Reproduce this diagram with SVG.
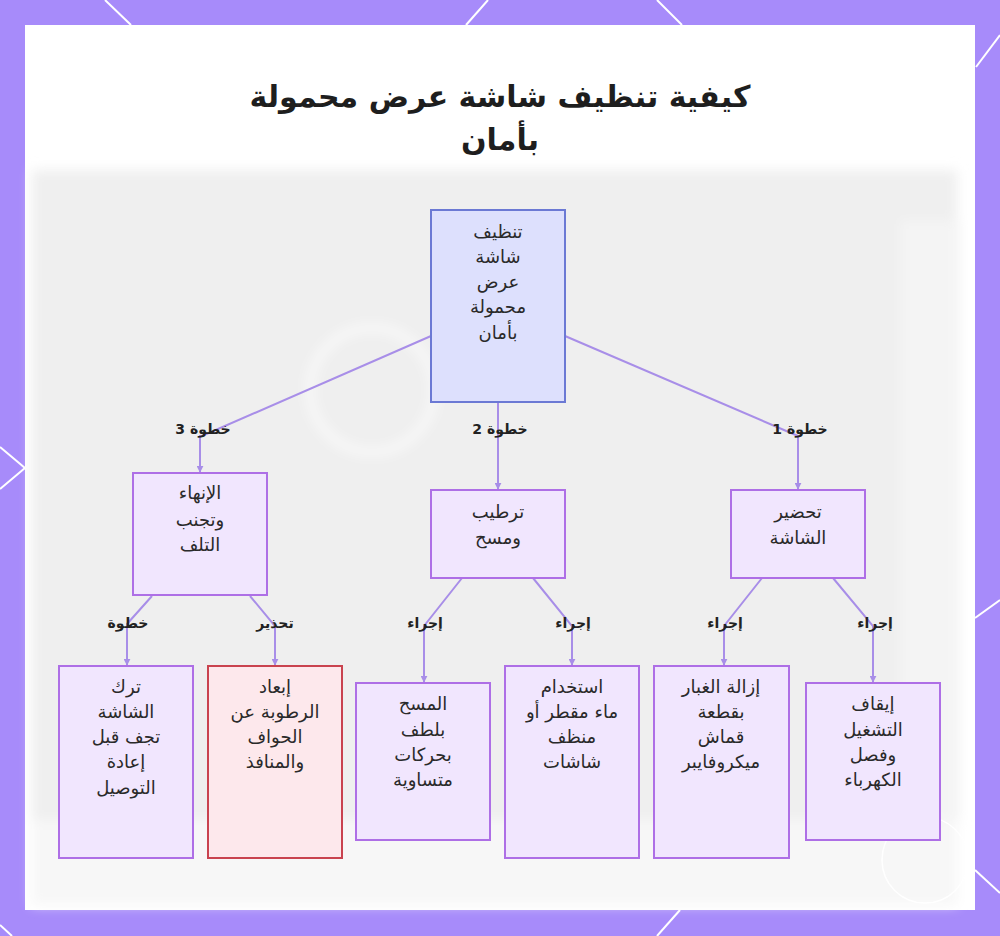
<svg xmlns="http://www.w3.org/2000/svg" width="1000" height="936" viewBox="0 0 1000 936">
<style>
text{font-family:"DejaVu Sans","Noto Sans",sans-serif;direction:rtl;text-anchor:middle;fill:#2a2a2a}
.t{font-size:30px;font-weight:bold;fill:#1e1e1e}
.n{font-size:18px}
.lb{font-size:14px;font-weight:bold;fill:#222}
.root{fill:#dde0fd;stroke:#6b79d4;stroke-width:2}
.p{fill:#f1e6fe;stroke:#ae6fe6;stroke-width:2}
.r{fill:#fde8ec;stroke:#c9434f;stroke-width:2}
.e{fill:none;stroke:#a88ee8;stroke-width:2}
.deco{stroke:#ffffff;stroke-width:2;fill:none}
</style>
<defs>
<marker id="ah" viewBox="0 0 10 10" refX="9" refY="5" markerWidth="3.5" markerHeight="3.5" orient="auto"><path d="M0,0L10,5L0,10z" fill="#a88ee8"/></marker>
<filter id="bl" x="-10%" y="-10%" width="120%" height="120%"><feGaussianBlur stdDeviation="6"/></filter>
</defs>
<rect x="0" y="0" width="1000" height="936" fill="#a78bfa"/>
<g class="deco">
<line x1="105" y1="0" x2="131" y2="25"/>
<line x1="488" y1="0" x2="466" y2="25"/>
<line x1="657" y1="0" x2="682" y2="25"/>
<line x1="1000" y1="35" x2="976" y2="67"/>
<line x1="0" y1="447" x2="25" y2="468"/>
<line x1="0" y1="489" x2="25" y2="468"/>
<line x1="1000" y1="600" x2="975" y2="618"/>
<line x1="975" y1="870" x2="1000" y2="893"/>
<line x1="680" y1="910" x2="657" y2="936"/>
<line x1="0" y1="925" x2="12" y2="936"/>
</g>
<rect x="25" y="25" width="950" height="885" fill="#ffffff"/>
<g filter="url(#bl)">
<rect x="32" y="170" width="925" height="650" fill="#efefef"/>
<rect x="32" y="820" width="925" height="85" fill="#f7f7f7"/>
<circle cx="372" cy="390" r="62" fill="none" stroke="#f7f7f7" stroke-width="10"/>
<rect x="900" y="220" width="60" height="600" fill="#f4f4f4"/>
</g>
<circle cx="925" cy="860" r="43" fill="none" stroke="#ffffff" stroke-width="1.5"/>
<text class="t" x="500" y="107">كيفية تنظيف شاشة عرض محمولة</text>
<text class="t" x="500" y="150">بأمان</text>
<g id="connectors">
<polyline class="e" points="431,336 202,436 200,436 200,472" marker-end="url(#ah)"/>
<polyline class="e" points="498,402 498,489" marker-end="url(#ah)"/>
<polyline class="e" points="565,336 798,436 798,489" marker-end="url(#ah)"/>
<polyline class="e" points="152,596 127,624 127,665" marker-end="url(#ah)"/>
<polyline class="e" points="250,596 275,626 275,665" marker-end="url(#ah)"/>
<polyline class="e" points="462,578 424,626 424,682" marker-end="url(#ah)"/>
<polyline class="e" points="533,578 572,626 572,665" marker-end="url(#ah)"/>
<polyline class="e" points="762,578 724,626 724,665" marker-end="url(#ah)"/>
<polyline class="e" points="833,578 873,626 873,682" marker-end="url(#ah)"/>
<text class="lb" x="203" y="434">خطوة 3</text>
<text class="lb" x="500" y="434">خطوة 2</text>
<text class="lb" x="800" y="434">خطوة 1</text>
<text class="lb" x="128" y="628">خطوة</text>
<text class="lb" x="275" y="628">تحذير</text>
<text class="lb" x="425" y="628">إجراء</text>
<text class="lb" x="573" y="628">إجراء</text>
<text class="lb" x="725" y="628">إجراء</text>
<text class="lb" x="875" y="628">إجراء</text>
</g>
<g id="root">
<rect class="root" x="431" y="210" width="134" height="192"/>
<text class="n" x="498" y="238">تنظيف</text>
<text class="n" x="498" y="263">شاشة</text>
<text class="n" x="498" y="288">عرض</text>
<text class="n" x="498" y="313">محمولة</text>
<text class="n" x="498" y="339">بأمان</text>
</g>
<g id="step3">
<rect class="p" x="133" y="473" width="134" height="122"/>
<text class="n" x="200" y="499">الإنهاء</text>
<text class="n" x="200" y="526">وتجنب</text>
<text class="n" x="200" y="551">التلف</text>
</g>
<g id="step2">
<rect class="p" x="431" y="490" width="134" height="88"/>
<text class="n" x="498" y="518">ترطيب</text>
<text class="n" x="498" y="544">ومسح</text>
</g>
<g id="step1">
<rect class="p" x="731" y="490" width="134" height="88"/>
<text class="n" x="798" y="518">تحضير</text>
<text class="n" x="798" y="544">الشاشة</text>
</g>
<g id="leave">
<rect class="p" x="59" y="666" width="134" height="192"/>
<text class="n" x="126" y="693">ترك</text>
<text class="n" x="126" y="718">الشاشة</text>
<text class="n" x="126" y="743">تجف قبل</text>
<text class="n" x="126" y="768">إعادة</text>
<text class="n" x="126" y="794">التوصيل</text>
</g>
<g id="warn">
<rect class="r" x="208" y="666" width="134" height="192"/>
<text class="n" x="275" y="693">إبعاد</text>
<text class="n" x="275" y="718">الرطوبة عن</text>
<text class="n" x="275" y="743">الحواف</text>
<text class="n" x="275" y="768">والمنافذ</text>
</g>
<g id="wipe">
<rect class="p" x="356" y="683" width="134" height="157"/>
<text class="n" x="423" y="710">المسح</text>
<text class="n" x="423" y="736">بلطف</text>
<text class="n" x="423" y="761">بحركات</text>
<text class="n" x="423" y="786">متساوية</text>
</g>
<g id="water">
<rect class="p" x="505" y="666" width="134" height="192"/>
<text class="n" x="572" y="693">استخدام</text>
<text class="n" x="572" y="718">ماء مقطر أو</text>
<text class="n" x="572" y="743">منظف</text>
<text class="n" x="572" y="768">شاشات</text>
</g>
<g id="dust">
<rect class="p" x="654" y="666" width="135" height="192"/>
<text class="n" x="721" y="693">إزالة الغبار</text>
<text class="n" x="721" y="718">بقطعة</text>
<text class="n" x="721" y="743">قماش</text>
<text class="n" x="721" y="768">ميكروفايبر</text>
</g>
<g id="off">
<rect class="p" x="806" y="683" width="134" height="157"/>
<text class="n" x="873" y="710">إيقاف</text>
<text class="n" x="873" y="736">التشغيل</text>
<text class="n" x="873" y="761">وفصل</text>
<text class="n" x="873" y="786">الكهرباء</text>
</g>
</svg>
